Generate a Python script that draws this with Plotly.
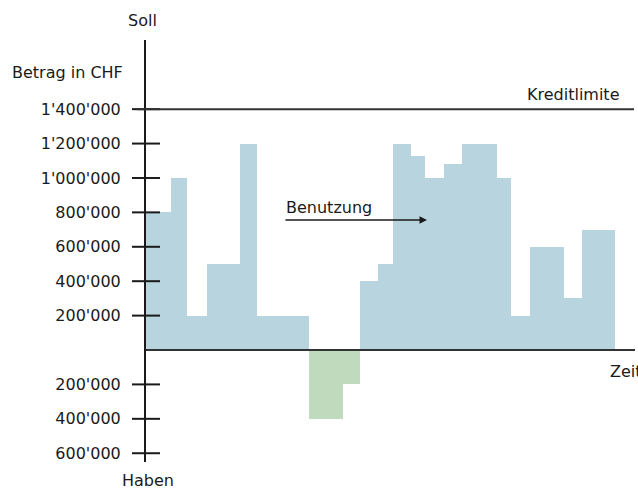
import plotly.graph_objects as go

# Account balance over time (step periods), amounts in CHF
period_start = [0, 25, 41, 61, 94, 111, 163, 197, 214, 232, 247, 265, 279, 298, 316, 351, 365, 384, 418, 436]
period_length = [25, 16, 20, 33, 17, 52, 34, 17, 18, 15, 18, 14, 19, 18, 35, 14, 19, 34, 18, 33]
balance = [800000, 1000000, 200000, 500000, 1200000, 200000, -400000, -200000,
           400000, 500000, 1200000, 1130000, 1000000, 1080000, 1200000, 1000000,
           200000, 600000, 300000, 700000]

credit_limit = 1400000

tick_values = [1400000, 1200000, 1000000, 800000, 600000, 400000, 200000,
               -200000, -400000, -600000]
tick_labels = ["1'400'000", "1'200'000", "1'000'000", "800'000", "600'000",
               "400'000", "200'000", "200'000", "400'000", "600'000"]

BLUE = "#b8d4df"
GREEN = "#bfdabd"
INK = "#1a1a1a"
FONT = "DejaVu Sans"

fig = go.Figure()

fig.add_trace(go.Bar(
    x=period_start,
    y=balance,
    width=period_length,
    offset=0,
    marker=dict(color=[BLUE if v >= 0 else GREEN for v in balance],
                line=dict(width=0)),
    hoverinfo="skip",
    showlegend=False,
))

# Tick marks crossing the vertical axis
fig.add_trace(go.Scatter(
    x=[0] * len(tick_values),
    y=tick_values,
    mode="markers",
    marker=dict(symbol="line-ew", size=20, line=dict(width=2, color=INK)),
    cliponaxis=False,
    hoverinfo="skip",
    showlegend=False,
))

# Zero line (time axis) and credit limit
fig.add_shape(type="line", xref="paper", yref="y", x0=0, x1=1, y0=0, y1=0,
              line=dict(color="#333333", width=2), layer="above")
fig.add_shape(type="line", xref="paper", yref="y", x0=-0.018, x1=0.998,
              y0=credit_limit, y1=credit_limit,
              line=dict(color="#333333", width=2), layer="above")

fig.add_annotation(text="Kreditlimite", xref="x", yref="y", x=475, y=credit_limit,
                   xanchor="right", yanchor="bottom", yshift=3, showarrow=False)
fig.add_annotation(text="Zeit", xref="x", yref="y", x=462, y=0,
                   xanchor="left", yanchor="top", yshift=-10, showarrow=False)
fig.add_annotation(text="Soll", xref="paper", yref="paper", x=-0.008, y=1.047,
                   xanchor="center", yanchor="middle", showarrow=False)
fig.add_annotation(text="Haben", xref="paper", yref="paper", x=0.004, y=-0.043,
                   xanchor="center", yanchor="middle", showarrow=False)
fig.add_annotation(text="Betrag in CHF", xref="paper", yref="paper", x=-0.043, y=0.924,
                   xanchor="right", yanchor="middle", showarrow=False)
fig.add_annotation(text="Benutzung", xref="x", yref="y", x=138, y=826000,
                   xanchor="left", yanchor="middle", showarrow=False)
fig.add_annotation(text="", xref="x", yref="y", axref="x", ayref="y",
                   x=281, y=756000, ax=138, ay=756000,
                   showarrow=True, arrowhead=2, arrowsize=1, arrowwidth=1.5,
                   arrowcolor=INK)

fig.update_layout(
    width=638, height=488,
    margin=dict(l=146, r=3, t=40, b=26),
    paper_bgcolor="white", plot_bgcolor="white",
    font=dict(family=FONT, size=16, color=INK),
    xaxis=dict(range=[0, 489], visible=False, fixedrange=True),
    yaxis=dict(range=[-651000, 1802000], tickvals=tick_values, ticktext=tick_labels,
               showgrid=False, zeroline=False, showline=True, linecolor=INK,
               linewidth=2, ticks="", ticklabelstandoff=20,
               tickfont=dict(family=FONT, size=16, color=INK)),
    bargap=0,
    showlegend=False,
)

fig.write_html("out.html")
